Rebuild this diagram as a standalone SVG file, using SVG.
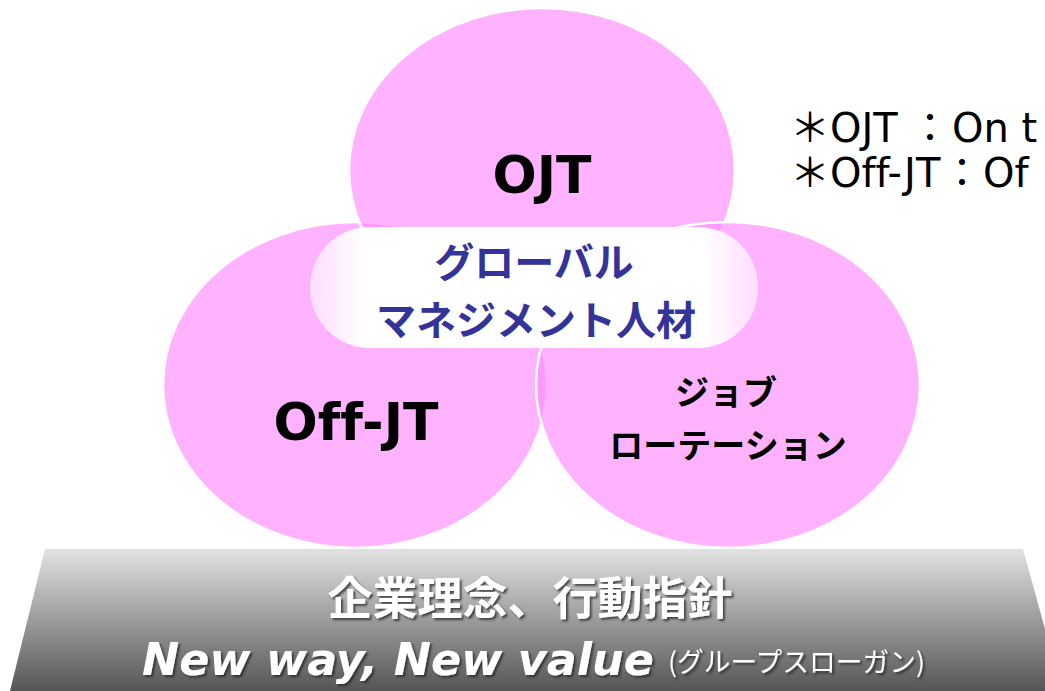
<svg xmlns="http://www.w3.org/2000/svg" width="1045" height="691" viewBox="0 0 1045 691">
<defs>
<linearGradient id="pillGrad" x1="0" y1="0" x2="1" y2="0">
<stop offset="0" stop-color="#ffffff" stop-opacity="0.55"/>
<stop offset="0.12" stop-color="#ffffff" stop-opacity="1"/>
<stop offset="0.88" stop-color="#ffffff" stop-opacity="1"/>
<stop offset="1" stop-color="#ffffff" stop-opacity="0.55"/>
</linearGradient>
<linearGradient id="baseGrad" x1="0" y1="0" x2="0" y2="1">
<stop offset="0" stop-color="#e2e2e2"/>
<stop offset="1" stop-color="#555555"/>
</linearGradient>
<filter id="shadow" x="-5%" y="-20%" width="110%" height="150%">
<feDropShadow dx="2" dy="2" stdDeviation="1.2" flood-color="#222222" flood-opacity="0.75"/>
</filter>
</defs>
<style>
.circle{fill:#ff8cff;fill-opacity:0.66;stroke:#ffffff;stroke-width:2.5}
.lbl{font-family:"DejaVu Sans","Noto Sans CJK JP",sans-serif;font-weight:bold;fill:#000000;text-anchor:middle;font-variant-ligatures:none}
.jp{font-family:"Noto Sans CJK JP",sans-serif;font-weight:bold;text-anchor:middle}
.note{font-family:"DejaVu Sans","Noto Sans CJK JP",sans-serif;font-size:40px;fill:#000000;font-variant-ligatures:none}
.base{fill:#ffffff;text-anchor:middle;filter:url(#shadow)}
</style>
<rect width="1045" height="691" fill="#ffffff"/>

<g id="node-offjt">
<ellipse class="circle" cx="355" cy="385" rx="192" ry="163"/>
</g>
<g id="node-ojt">
<ellipse class="circle" cx="542" cy="170" rx="193" ry="162"/>
</g>
<g id="node-jobrotation">
<ellipse class="circle" cx="728" cy="385" rx="192" ry="163"/>
</g>

<g id="node-center">
<rect x="310" y="227" width="448" height="121" rx="60" ry="60" fill="url(#pillGrad)"/>
<text class="jp" x="534" y="277" font-size="40" fill="#333399">グローバル</text>
<text class="jp" x="536" y="335" font-size="40" fill="#333399">マネジメント人材</text>
</g>

<g id="labels">
<text class="lbl" x="542" y="193" font-size="52">OJT</text>
<text class="lbl" x="356" y="440" font-size="52">Off-JT</text>
<text class="jp" x="726" y="405" font-size="34" fill="#000000">ジョブ</text>
<text class="jp" x="728" y="458" font-size="34" fill="#000000">ローテーション</text>
</g>

<g id="node-base">
<polygon points="45,549 1023,549 1062,691 10,691" fill="url(#baseGrad)"/>
<text class="base" x="530" y="615" font-family="Noto Sans CJK JP, sans-serif" font-weight="bold" font-size="45">企業理念、行動指針</text>
<text x="142" y="675" fill="#ffffff" filter="url(#shadow)" font-family="DejaVu Sans, sans-serif" font-weight="bold" font-style="italic" font-size="44.5">New way, New value</text>
<text x="668" y="672" fill="#ffffff" filter="url(#shadow)" font-family="Noto Sans CJK JP, sans-serif" font-size="27" textLength="257" lengthAdjust="spacingAndGlyphs">(グループスローガン)</text>
</g>

<g id="notes">
<text class="note" x="790" y="142">＊OJT<tspan x="910">：</tspan><tspan x="952">On t</tspan></text>
<text class="note" x="790" y="187">＊Off-JT<tspan x="942">：</tspan><tspan x="983">Of</tspan></text>
</g>

<g id="connectors"></g>
</svg>
